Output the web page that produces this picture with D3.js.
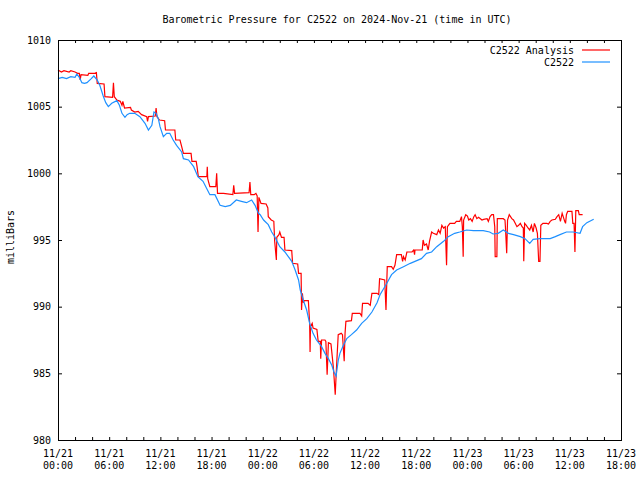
<!DOCTYPE html>
<html><head><meta charset="utf-8">
<script src="https://cdn.jsdelivr.net/npm/d3@7"></script>
<style>
body{margin:0;background:#fff}
text{font-family:"DejaVu Sans Mono","Liberation Mono",monospace;font-size:10px;fill:#000}
</style>
</head><body><svg id="c" width="640" height="480"></svg>
<script>
const title = "Barometric Pressure for C2522 on 2024-Nov-21 (time in UTC)";
const yAxisLabel = "milliBars";
const seriesNames = ["C2522 Analysis", "C2522"];
const seriesColors = ["#ff0000", "#1e90ff"];
const yTicks = [980, 985, 990, 995, 1000, 1005, 1010];
const xTickLabels = ["11/21 00:00","11/21 06:00","11/21 12:00","11/21 18:00","11/22 00:00","11/22 06:00","11/22 12:00","11/22 18:00","11/23 00:00","11/23 06:00","11/23 12:00","11/23 18:00"];
const startTime = "2024-11-21T00:00:00Z";
const endTime = "2024-11-23T18:00:00Z";

// C2522 observations: hours since start, pressure (mb)
const obsHours = [0,0.5,1,1.5,2,2.2,2.5,2.8,3.1,3.4,3.9,4.2,4.6,4.9,5.3,5.6,5.9,6.3,6.9,7.2,7.5,7.85,8.1,8.4,9,9.6,10.2,10.6,11,11.25,11.5,11.76,11.96,12.35,12.74,13.1,13.5,13.9,14.5,14.7,15.3,15.9,16.4,17,17.4,17.8,18.4,19,19.6,20.2,20.9,21.5,22.1,22.7,23.1,23.5,23.7,24.1,24.65,25.05,25.4,26,26.6,27,27.4,27.8,28.2,28.4,28.75,29.15,29.5,29.9,30.3,30.9,31.3,31.7,32.1,32.35,32.6,32.86,33.05,33.45,33.85,34.4,35,35.6,36.2,36.8,37.4,37.75,38.5,39.1,39.7,40.5,41.3,41.85,42.6,43.2,43.8,44.4,45.2,45.75,46.5,47.1,47.9,48.7,49.85,50.6,51,51.6,52.2,52.8,53.4,54.2,54.75,55.3,55.7,56.5,57.7,58.3,58.85,59.6,60.4,61.2,61.5,62,62.8];
const obsValues = [1007.1,1007.2,1007.1,1007.25,1007.2,1007.45,1007.2,1006.8,1006.75,1006.8,1007.1,1007.3,1007.0,1006.6,1005.8,1005.3,1005.0,1005.25,1005.45,1005.1,1004.5,1004.2,1004.4,1004.5,1004.5,1004.25,1003.75,1003.25,1003.6,1004.6,1004.5,1004.1,1003.5,1002.75,1003.0,1003.0,1002.5,1002.1,1001.6,1001.1,1001.0,1000.5,999.75,999.4,998.9,998.4,998.4,997.6,997.5,997.6,998.0,997.9,997.8,998.0,997.6,997.0,996.9,996.5,996.15,995.6,995.25,994.5,994.1,993.75,993.4,992.75,992.0,991.25,990.5,989.75,988.75,988.0,987.5,987.0,986.5,986.1,985.6,985.1,984.8,986.0,986.5,987.1,987.6,987.9,988.25,988.75,989.1,989.6,990.3,990.9,991.7,992.4,992.75,993.0,993.25,993.4,993.6,994.0,994.1,994.5,994.9,995.25,995.5,995.6,995.75,995.7,995.7,995.6,995.45,995.5,995.75,995.5,995.4,995.25,995.1,994.75,995.05,995.1,995.1,995.25,995.4,995.6,995.6,995.5,996.0,996.3,996.55];

// C2522 Analysis: hours since start, pressure (mb)
const anaHours = [0,0.4,0.7,1.3,1.5,2,2.3,2.5,2.6,2.7,3.5,3.6,4.3,4.5,4.6,5.4,5.5,6.4,6.5,6.6,6.9,7.3,7.5,7.6,7.8,8.5,8.6,9,9.4,9.8,10.4,10.5,10.6,11.4,11.5,11.6,11.9,12.5,12.6,13.7,13.8,14.3,14.5,14.7,15.6,15.7,16.2,16.3,16.45,17.45,17.5,17.55,17.8,18.5,18.6,18.7,19.4,20.5,20.6,20.7,22.4,22.5,22.6,23,23.2,23.35,23.45,23.55,23.8,24.4,24.6,24.65,25,25.3,25.4,25.6,25.65,25.9,26,26.2,26.5,26.6,27.4,27.5,28.1,28.2,28.5,28.55,28.65,28.75,28.85,29.35,29.5,29.55,29.6,29.8,29.9,30.35,30.5,30.75,30.8,30.9,31.3,31.4,31.55,31.7,32,32.2,32.3,32.5,32.6,32.7,32.85,33.2,33.35,33.55,33.65,33.75,34.4,34.5,35.4,35.6,35.7,36.35,36.6,36.8,37.4,37.6,37.7,38.3,38.45,38.55,38.6,39.1,39.3,39.5,39.7,40.25,40.4,40.5,40.7,40.9,41.5,41.7,41.8,41.85,42.7,42.8,42.95,43.2,43.4,43.55,43.8,44,44.4,44.6,44.8,45,45.2,45.4,45.55,45.65,45.95,46.5,46.7,47.1,47.3,47.4,47.5,47.55,47.8,48,48.15,48.35,48.55,48.75,48.9,49.1,49.3,49.7,49.9,50.3,50.45,50.65,50.85,51.05,51.2,51.25,51.45,51.5,51.8,52.2,52.4,52.45,52.6,52.7,52.9,53.2,53.4,53.6,53.8,54,54.2,54.4,54.55,54.6,54.7,54.9,55.1,55.3,55.5,55.7,55.85,56.05,56.2,56.35,56.5,56.6,56.85,57.3,57.5,57.7,57.9,58.3,58.5,58.7,58.9,59.1,59.3,59.4,59.5,59.6,59.75,60.25,60.35,60.5,60.6,60.7,61,61.1,61.5];
const anaValues = [1007.75,1007.6,1007.7,1007.6,1007.7,1007.6,1007.5,1007.5,1007.0,1007.4,1007.35,1007.5,1007.5,1007.55,1006.75,1006.7,1005.75,1005.7,1006.8,1005.75,1005.5,1005.4,1005.1,1005.4,1004.9,1004.95,1004.75,1004.6,1004.65,1004.4,1004.25,1003.9,1004.25,1004.3,1004.9,1004.25,1004.0,1003.95,1003.25,1003.25,1002.5,1002.5,1002.0,1001.5,1001.5,1000.9,1000.9,1000.5,999.75,999.75,1000.5,999.6,999.0,999.0,1000.0,998.5,998.5,998.4,999.1,998.5,998.55,999.35,998.4,998.4,998.5,998.3,995.6,998.2,997.75,997.7,997.4,996.75,996.5,996.4,994.9,993.5,995.2,995.4,995.6,995.2,995.2,994.25,994.2,993.25,993.2,992.5,992.5,989.75,991.0,990.3,990.45,990.45,988.75,986.6,988.5,988.75,988.4,988.3,987.4,987.4,986.1,987.5,987.5,987.4,984.9,987.3,987.2,985.95,985.3,983.4,984.8,986.1,987.9,988.0,987.9,985.9,988.0,988.9,988.95,989.5,989.5,989.3,990.25,990.25,990.1,991.0,991.0,990.9,992.1,992.0,989.75,992.0,993.0,993.0,992.8,993.1,993.9,993.9,993.4,993.75,993.5,994.1,994.1,994.25,993.9,994.25,994.25,995.0,994.6,994.7,994.25,994.9,995.6,995.5,995.4,995.75,995.5,996.1,995.9,996.0,993.1,996.0,996.25,996.25,996.4,996.4,996.75,996.0,993.75,996.5,996.9,996.8,996.5,996.6,996.4,996.75,996.9,996.6,996.7,996.5,996.55,996.6,996.4,996.75,996.9,996.9,996.0,993.75,993.75,996.6,996.6,996.6,996.5,996.0,994.0,996.5,996.9,996.6,996.5,996.25,996.0,996.1,996.25,996.0,995.9,993.4,996.25,996.1,995.9,995.75,996.1,995.6,996.25,995.9,995.5,993.4,993.4,996.1,996.25,996.25,996.2,996.4,996.5,996.55,996.75,996.9,996.4,997.0,996.6,996.4,996.25,996.9,997.15,997.15,996.25,996.25,994.1,997.2,997.2,996.9,996.9];

const svg = d3.select("#c");
const L = 58, R = 621, T = 40, B = 440;
const t0 = new Date(startTime);
const x = d3.scaleUtc().domain([t0, new Date(endTime)]).range([L, R]);
const y = d3.scaleLinear().domain([980, 1010]).range([B, T]);
const toDate = h => new Date(t0.getTime() + h * 3600000);

const obs = obsHours.map((h, i) => ({t: toDate(h), v: obsValues[i]}));
const ana = anaHours.map((h, i) => ({t: toDate(h), v: anaValues[i]}));

// Title
svg.append("text").attr("x", 337).attr("y", 23).attr("text-anchor", "middle").text(title);

// Y label
svg.append("text").attr("transform", "translate(14,237) rotate(-90)").attr("text-anchor", "middle").text(yAxisLabel);

// Axes ticks
const tick2h = d3.utcHour.every(2).range(t0, new Date(new Date(endTime).getTime() + 1));
svg.append("g").attr("transform", `translate(0,${B})`)
  .call(d3.axisBottom(x).tickValues(tick2h).tickSize(-3).tickFormat(""))
  .call(g => g.select(".domain").remove())
  .selectAll("line").attr("stroke", "#000");
svg.append("g").attr("transform", `translate(0,${T})`)
  .call(d3.axisTop(x).tickValues(tick2h).tickSize(-3).tickFormat(""))
  .call(g => g.select(".domain").remove())
  .selectAll("line").attr("stroke", "#000");
svg.append("g").attr("transform", `translate(${L},0)`)
  .call(d3.axisLeft(y).tickValues(yTicks).tickSize(-4).tickPadding(10).tickFormat(d3.format("d")))
  .call(g => g.select(".domain").remove())
  .call(g => g.selectAll("text").attr("font-family", "DejaVu Sans Mono").attr("font-size", 10).attr("fill", "#000").attr("dx", "3"))
  .selectAll("line").attr("stroke", "#000");
svg.append("g").attr("transform", `translate(${R},0)`)
  .call(d3.axisRight(y).tickValues(yTicks).tickSize(-4).tickFormat(""))
  .call(g => g.select(".domain").remove())
  .selectAll("line").attr("stroke", "#000");

// X tick labels (two lines)
const tick6h = d3.utcHour.every(6).range(t0, new Date(new Date(endTime).getTime() + 1));
tick6h.forEach((d, i) => {
  const parts = xTickLabels[i].split(" ");
  const g = svg.append("text").attr("text-anchor", "middle");
  g.append("tspan").attr("x", x(d)).attr("y", 457).text(parts[0]);
  g.append("tspan").attr("x", x(d)).attr("y", 469).text(parts[1]);
});

// Lines
const line = d3.line().x(d => x(d.t)).y(d => y(d.v));
svg.append("path").datum(ana).attr("d", line).attr("fill", "none").attr("stroke", seriesColors[0]).attr("stroke-width", 1.2);
svg.append("path").datum(obs).attr("d", line).attr("fill", "none").attr("stroke", seriesColors[1]).attr("stroke-width", 1.2);

// Frame
svg.append("rect").attr("x", L).attr("y", T).attr("width", R - L).attr("height", B - T)
  .attr("fill", "none").attr("stroke", "#000").attr("stroke-width", 1).attr("shape-rendering", "crispEdges");

// Legend
seriesNames.forEach((n, i) => {
  const ly = 50 + i * 12;
  svg.append("text").attr("x", 574).attr("y", ly + 4).attr("text-anchor", "end").text(n);
  svg.append("line").attr("x1", 582).attr("x2", 610).attr("y1", ly).attr("y2", ly)
    .attr("stroke", seriesColors[i]).attr("stroke-width", 1.2);
});
</script>
</body></html>
